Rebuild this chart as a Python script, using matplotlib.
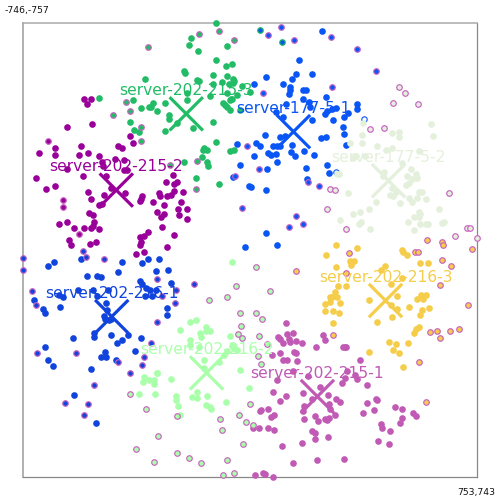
import matplotlib
matplotlib.use("Agg")
import matplotlib.pyplot as plt

names = ["server-202-215-3", "server-177-5-1", "server-177-5-2", "server-202-216-3",
         "server-202-215-1", "server-202-215-2", "server-202-216-1", "server-202-216-2"]
colors = ["#22bb66", "#0a55f5", "#e4f0dc", "#f5cd4a", "#c05ab5", "#990099", "#1144dd", "#aaffaa"]
center_x = [-207, 147, 461, 451, 226, -438, -453, -140]
center_y = [-457, -398, -236, 160, 477, -205, 213, 399]

green_pts = [(-110,-758),(-192,-706),(-197,-684),(-167,-663),(-74,-681),(-109,-635),(-76,-616),(-55,-621),(-215,-600),(-210,-591),(-118,-585),(-72,-581),(-53,-573),(-50,-566),(-54,-558),(-66,-554),(-88,-562),(-118,-556),(-173,-568),(-166,-566),(-342,-572),(-24,-550),(-495,-510),(-383,-503),(-357,-477),(-325,-481),(-318,-492),(-329,-479),(-304,-466),(-278,-493),(-205,-504),(-128,-517),(-71,-527),(-39,-519),(-60,-507),(-63,-501),(-55,-505),(-85,-492),(-80,-485),(-74,-481),(-64,-470),(-30,-468),(-265,-452),(-264,-439),(-392,-429),(-378,-404),(-362,-396),(-278,-400),(-238,-427),(-184,-411),(-120,-429),(-109,-364),(-63,-333),(-48,-339),(-149,-345),(-153,-336),(-139,-337),(-155,-313),(-137,-299),(-134,-285),(-214,-298),(-174,-246),(-98,-226),(-206,-527),(3,-530)]
green_ring = [(-166,-721),(-98,-730),(-49,-700),(-334,-678),(-406,-497),(-394,-467),(-448,-452),(-357,-413),(-357,-367),(-261,-287),(-172,-301),(-174,-208)]

blue1_pts = [(-38,-357),(-29,-288),(-54,-248),(1,-217),(-13,-17),(241,-731),(164,-634),(154,-589),(143,-573),(207,-589),(57,-580),(18,-557),(114,-557),(135,-546),(135,-534),(132,-524),(177,-535),(187,-535),(178,-507),(254,-513),(124,-491),(198,-495),(201,-478),(358,-490),(358,-474),(251,-456),(258,-466),(273,-474),(289,-476),(328,-461),(314,-448),(89,-464),(113,-446),(207,-436),(276,-436),(311,-413),(315,-391),(54,-387),(104,-381),(118,-384),(237,-376),(254,-379),(320,-354),(24,-361),(38,-349),(80,-349),(91,-349),(103,-349),(142,-354),(183,-334),(216,-321),(138,-330),(152,-317),(64,-326),(73,-320),(88,-324),(18,-319),(94,-298),(61,-275),(187,-279),(259,-288),(264,-261),(192,-241),(6,-216),(57,-204),(57,-62),(92,-22)]
blue1_ring = [(-8,-351),(-45,-252),(-23,-147),(105,-745),(64,-717),(150,-702),(270,-711),(358,-671),(419,-599),(45,-525),(273,-546),(32,-276),(196,-233),(231,-219),(156,-118),(131,-84),(179,-92)]
blue1_green_ring = [(36,-734),(110,-693)]
blue1_open = [(380,-440),(287,-266)]

light_pts = [(375,-428),(373,-387),(374,-360),(335,-361),(424,-352),(472,-393),(497,-396),(497,-380),(601,-422),(608,-382),(451,-338),(472,-345),(560,-335),(504,-294),(535,-273),(445,-265),(443,-250),(522,-253),(550,-259),(556,-244),(538,-242),(529,-230),(520,-221),(291,-257),(298,-257),(328,-196),(418,-164),(395,-144),(366,-133),(345,-126),(301,-105),(369,-98),(362,-92),(401,-75),(525,-101),(546,-117),(562,-131),(566,-125),(562,-116),(627,-141),(644,-101),(637,-96),(564,-93),(585,-93),(591,-92),(546,-74),(465,-188),(476,-184),(487,-197),(474,-211),(498,-161),(529,-180),(538,-164),(556,-180),(560,-197),(573,-197),(586,-176),(355,-316),(344,-310),(383,-316)]
light_ring = [(495,-547),(515,-525),(476,-494),(559,-488),(400,-406),(447,-409),(266,-209),(285,-205),(258,-143),(662,-194),(319,-78),(721,-81),(731,-81),(680,-52),(753,-45)]

yellow_pts = [(289,-23),(358,-14),(507,-8),(254,11),(335,28),(346,28),(336,44),(287,50),(566,37),(592,37),(508,-1),(523,9),(436,60),(449,47),(506,84),(469,105),(295,113),(320,113),(284,132),(292,149),(267,149),(273,148),(267,165),(302,168),(252,171),(251,193),(276,194),(298,202),(278,234),(398,157),(490,144),(468,175),(490,189),(529,181),(554,154),(567,141),(583,141),(576,155),(595,186),(573,191),(566,208),(423,231),(473,213),(561,246),(553,254),(544,266),(463,297),(484,302),(526,300),(475,325),(495,334),(395,331),(509,378)]
yellow_ring = [(587,-41),(638,-33),(641,-25),(737,-10),(332,2),(637,25),(667,45),(548,-1),(559,-1),(154,62),(321,68),(630,110),(724,176),(598,264),(621,260),(632,284),(663,260),(694,253),(279,275),(563,363),(584,494)]

pink_pts = [(122,234),(97,280),(101,287),(111,300),(126,269),(147,267),(131,287),(137,296),(155,293),(175,300),(246,275),(251,289),(221,314),(309,312),(317,312),(322,312),(103,334),(76,339),(150,330),(156,333),(111,357),(126,358),(158,359),(367,357),(144,394),(325,394),(91,421),(196,410),(317,416),(350,406),(358,420),(306,434),(389,440),(233,446),(179,465),(262,471),(124,474),(79,462),(103,493),(207,484),(286,486),(302,495),(420,484),(422,490),(390,500),(412,520),(377,530),(483,512),(506,517),(507,548),(500,564),(543,533),(553,542),(35,526),(39,521),(64,519),(73,545),(82,539),(181,509),(179,524),(264,502),(267,517),(285,537),(218,543),(182,552),(229,559),(252,553),(263,548),(258,555),(437,568),(439,582),(467,592),(13,580),(33,580),(64,580),(82,589),(207,590),(218,597),(218,619),(260,612),(425,623),(461,633),(176,631),(109,639),(147,698),(225,686),(314,683),(21,738),(47,731),(54,733),(78,742)]
pink_ring = []

purple_pts = [(-545,-507),(-522,-505),(-536,-490),(-517,-424),(-601,-414),(-640,-345),(-692,-326),(-640,-321),(-555,-351),(-561,-321),(-530,-327),(-496,-318),(-431,-349),(-419,-345),(-393,-385),(-382,-360),(-441,-308),(-414,-306),(-484,-299),(-481,-286),(-602,-274),(-547,-253),(-703,-246),(-671,-207),(-640,-217),(-472,-250),(-454,-211),(-533,-197),(-522,-177),(-478,-188),(-410,-196),(-495,-156),(-486,-160),(-413,-272),(-404,-272),(-252,-254),(-273,-232),(-248,-225),(-238,-231),(-246,-203),(-218,-198),(-298,-194),(-295,-187),(-269,-186),(-256,-190),(-352,-184),(-357,-175),(-361,-170),(-316,-165),(-225,-165),(-280,-155),(-304,-134),(-234,-143),(-204,-141),(-281,-126),(-290,-117),(-230,-122),(-203,-110),(-288,-82),(-333,-65),(-249,-55),(-528,-129),(-516,-121),(-511,-98),(-516,-85),(-521,-81),(-602,-101),(-626,-94),(-577,-79),(-545,-79),(-496,-76),(-594,-40),(-589,-23),(-526,-28),(-504,-34),(-359,-49),(-347,-54),(-356,-33),(-361,-24),(-270,-18),(-374,5),(-345,1)]
purple_ring = [(-662,-367),(-613,-172),(-613,-149),(-562,-59)]

blue2_pts = [(-554,22),(-664,46),(-643,33),(-418,32),(-332,23),(-298,24),(-353,35),(-307,62),(-268,58),(-535,79),(-502,78),(-489,81),(-432,65),(-359,97),(-353,104),(-258,102),(-709,158),(-681,187),(-675,201),(-625,181),(-626,143),(-613,149),(-564,124),(-514,126),(-502,145),(-467,126),(-473,168),(-469,192),(-478,211),(-476,221),(-461,225),(-457,220),(-341,119),(-327,126),(-307,126),(-344,144),(-319,146),(-270,185),(-271,208),(-512,268),(-510,280),(-454,273),(-399,273),(-580,285),(-435,300),(-419,290),(-357,284),(-675,315),(-662,355),(-646,375),(-476,330),(-473,345),(-490,347),(-438,356),(-377,326),(-520,387),(-579,471),(-505,563)]
blue2_ring = [(-746,20),(-747,58),(-549,-3),(-537,17),(-478,24),(-305,90),(-180,104),(-717,130),(-703,174),(-288,146),(-241,124),(-245,168),(-302,232),(-324,301),(-701,333),(-572,334),(-433,363),(-348,347),(-352,372),(-394,398),(-510,438),(-607,497),(-530,502),(-545,539)]

lgreen_pts = [(-55,32),(-193,231),(-176,225),(-142,246),(-141,260),(-127,259),(-163,266),(-159,280),(-228,258),(-61,276),(-193,291),(-195,308),(-166,312),(-57,309),(-48,317),(-41,322),(-74,328),(-83,341),(-148,355),(-98,364),(-147,383),(-31,389),(-305,398),(-302,400),(-258,420),(-347,414),(-350,429),(-330,423),(-315,422),(-315,435),(-363,470),(-309,470),(-241,474),(-242,488),(-188,480),(-173,463),(-173,483),(-140,477),(-77,494),(-1,448),(-141,504),(-129,513),(-125,517),(-233,510),(-228,537)]
lgreen_ring = [(-44,111),(-71,147),(-131,159),(-30,202),(-27,243),(-37,269),(-22,284),(-393,469),(-236,543),(-339,517),(-32,539),(-96,553),(-10,562),(-88,587),(3,503),(-301,609),(-374,652),(-237,663),(-199,680),(-313,693),(-158,696),(-71,687),(-21,634),(-85,736),(-50,729),(22,48),(70,130),(24,201),(43,222),(32,278),(61,302),(31,342),(39,368),(12,571)]

plain = [green_pts, blue1_pts, light_pts, yellow_pts, pink_pts, purple_pts, blue2_pts, lgreen_pts]
ringed = [green_ring, blue1_ring, light_ring, yellow_ring, pink_ring, purple_ring, blue2_ring, lgreen_ring]

ring_color = "#c864c0"
arm = 55
label_lift = 77

fig = plt.figure(figsize=(5, 5), dpi=100)
ax = fig.add_axes([23 / 500, 23 / 500, 454 / 500, 454 / 500])
ax.set_xlim(-746, 753)
ax.set_ylim(743, -757)
ax.set_xticks([])
ax.set_yticks([])
for side, c, w in [("left", "#aaaaaa", 1.3), ("top", "#aaaaaa", 1.1), ("right", "#888888", 0.9), ("bottom", "#888888", 0.9)]:
    ax.spines[side].set_color(c)
    ax.spines[side].set_linewidth(w)

ax.scatter([p[0] for p in blue1_open], [p[1] for p in blue1_open], s=15, facecolor="white",
           edgecolor=colors[1], linewidths=0.8, zorder=2.9, clip_on=False)
for i, name in enumerate(names):
    col = colors[i]
    pts = plain[i]
    ax.scatter([p[0] for p in pts], [p[1] for p in pts], s=23, color=col, linewidths=0, zorder=3, clip_on=False)
    rp = ringed[i]
    if rp:
        ax.scatter([p[0] for p in rp], [p[1] for p in rp], s=16, facecolor=col, edgecolor=ring_color,
                   linewidths=0.85, zorder=3, clip_on=False)
    cx, cy = center_x[i], center_y[i]
    ax.plot([cx - arm, cx + arm], [cy - arm, cy + arm], color=col, lw=2.3, zorder=4, solid_capstyle="butt")
    ax.plot([cx - arm, cx + arm], [cy + arm, cy - arm], color=col, lw=2.3, zorder=4, solid_capstyle="butt")
    ax.text(cx, cy - label_lift, name, color=col, fontsize=11.2, ha="center", va="center", zorder=5, clip_on=False)
ax.scatter([p[0] for p in blue1_green_ring], [p[1] for p in blue1_green_ring], s=16, facecolor=colors[1],
           edgecolor=colors[0], linewidths=0.85, zorder=3, clip_on=False)

fig.text(5 / 500, 1 - 10 / 500, "-746,-757", fontsize=6.7, color="#111111", ha="left", va="center")
fig.text(495 / 500, 1 - 492 / 500, "753,743", fontsize=6.7, color="#111111", ha="right", va="center")

fig.savefig("out.png", dpi=100, facecolor="white")
